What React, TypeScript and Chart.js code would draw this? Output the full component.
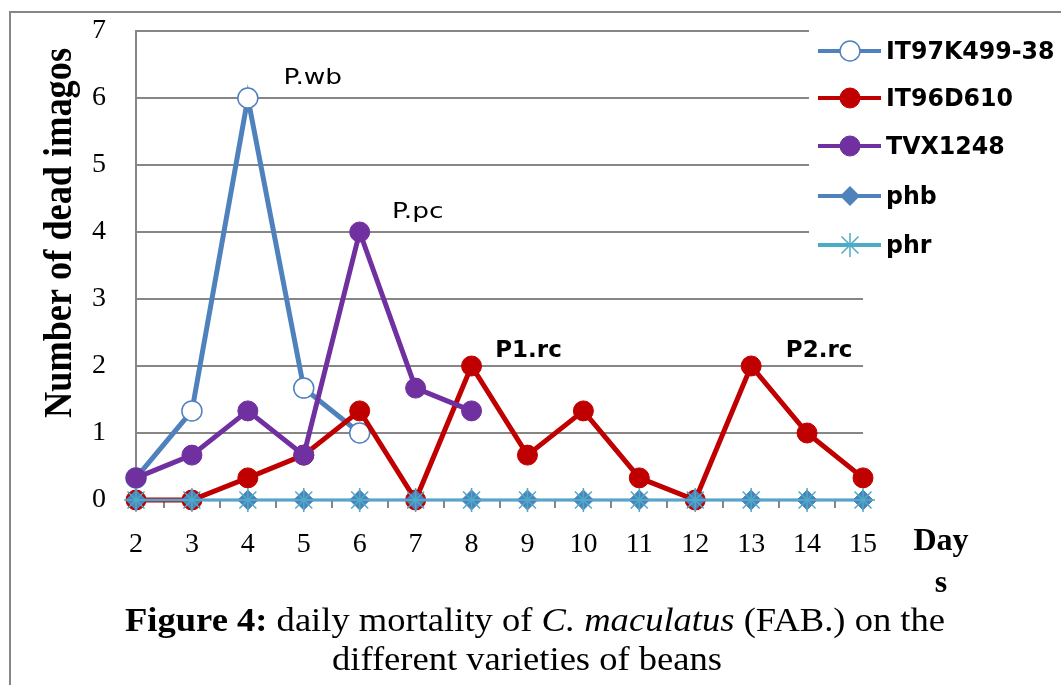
import React, { useEffect, useRef } from "react";
import { Chart, registerables } from "chart.js";

Chart.register(...registerables);

const days = ["2", "3", "4", "5", "6", "7", "8", "9", "10", "11", "12", "13", "14", "15"];
const yTicks = [0, 1, 2, 3, 4, 5, 6, 7];
const it97k = [0.33, 1.33, 6, 1.67, 1, null, null, null, null, null, null, null, null, null];
const it96d = [0, 0, 0.33, 0.67, 1.33, 0, 2, 0.67, 1.33, 0.33, 0, 2, 1, 0.33];
const tvx = [0.33, 0.67, 1.33, 0.67, 4, 1.67, 1.33, null, null, null, null, null, null, null];
const phb = [0, 0, 0, 0, 0, 0, 0, 0, 0, 0, 0, 0, 0, 0];
const phr = [0, 0, 0, 0, 0, 0, 0, 0, 0, 0, 0, 0, 0, 0];
const seriesNames = ["IT97K499-38", "IT96D610", "TVX1248", "phb", "phr"];
const peakLabels = [
  { text: "P.wb", day: "4", value: 6, dx: 65, dy: -20, bold: false },
  { text: "P.pc", day: "6", value: 4, dx: 58, dy: -20, bold: false },
  { text: "P1.rc", day: "8", value: 2, dx: 57, dy: -15, bold: true },
  { text: "P2.rc", day: "13", value: 2, dx: 68, dy: -15, bold: true },
];

const BLUE = "#4F81BD";
const RED = "#C00000";
const PURPLE = "#7030A0";
const CYAN = "#4BACC6";
const GRID = "#868686";

const extrasPlugin = {
  id: "extras",
  beforeDraw(chart: any) {
    const ctx = chart.ctx;
    ctx.save();
    ctx.fillStyle = "#ffffff";
    ctx.fillRect(0, 0, chart.width, chart.height);
    ctx.strokeStyle = GRID;
    ctx.lineWidth = 2;
    ctx.strokeRect(10, 12, chart.width + 20, chart.height + 20);
    ctx.restore();
  },
  afterDatasetsDraw(chart: any) {
    const ctx = chart.ctx;
    const xs = chart.scales.x;
    const ys = chart.scales.y;
    ctx.save();
    ctx.fillStyle = "#000";
    ctx.textAlign = "center";
    ctx.textBaseline = "middle";
    for (const p of peakLabels) {
      const idx = days.indexOf(p.day);
      const x = xs.getPixelForValue(idx) + p.dx;
      const y = ys.getPixelForValue(p.value) + p.dy;
      ctx.save();
      ctx.translate(x, y);
      if (p.bold) {
        ctx.font = "bold 23px 'DejaVu Sans'";
      } else {
        ctx.scale(1.2, 1);
        ctx.font = "22px 'DejaVu Sans'";
      }
      ctx.fillText(p.text, 0, 0);
      ctx.restore();
    }
    ctx.restore();
  },
  afterDraw(chart: any) {
    const ctx = chart.ctx;
    ctx.save();
    // legend
    ctx.fillStyle = "#fff";
    ctx.fillRect(809, 20, 260, 268);
    const ys = [51, 98, 146, 196, 245];
    const colors = [BLUE, RED, PURPLE, BLUE, CYAN];
    chart.data.datasets.forEach((ds: any, i: number) => {
      const y = ys[i];
      ctx.strokeStyle = colors[i];
      ctx.lineWidth = 4;
      ctx.beginPath();
      ctx.moveTo(818, y);
      ctx.lineTo(881, y);
      ctx.stroke();
      const ps = ds.pointStyle;
      if (ps === "circle") {
        ctx.beginPath();
        ctx.arc(850, y, ds.pointRadius, 0, Math.PI * 2);
        ctx.fillStyle = ds.pointBackgroundColor;
        ctx.fill();
        ctx.lineWidth = ds.pointBorderWidth;
        ctx.strokeStyle = ds.pointBorderColor;
        ctx.stroke();
      } else if (ps === "rectRot") {
        const r = ds.pointRadius;
        ctx.beginPath();
        ctx.moveTo(850, y - r);
        ctx.lineTo(850 + r, y);
        ctx.lineTo(850, y + r);
        ctx.lineTo(850 - r, y);
        ctx.closePath();
        ctx.fillStyle = ds.pointBackgroundColor;
        ctx.fill();
      } else if (ps === "star") {
        const r = ds.pointRadius;
        ctx.strokeStyle = CYAN;
        ctx.lineWidth = 1.5;
        ctx.beginPath();
        for (let k = 0; k < 4; k++) {
          const a = (k * Math.PI) / 4;
          ctx.moveTo(850 - r * Math.cos(a), y - r * Math.sin(a));
          ctx.lineTo(850 + r * Math.cos(a), y + r * Math.sin(a));
        }
        ctx.stroke();
      }
      ctx.save();
      ctx.translate(886, y + 1);
      ctx.scale(1.03, 1.1);
      ctx.fillStyle = "#000";
      ctx.font = "bold 23px 'DejaVu Sans'";
      ctx.textAlign = "left";
      ctx.textBaseline = "middle";
      ctx.fillText(seriesNames[i], 0, 0);
      ctx.restore();
    });

    // y title
    ctx.save();
    ctx.font = "bold 39px 'Liberation Serif'";
    const title = "Number of dead imagos";
    const tw = ctx.measureText(title).width;
    ctx.translate(71, 233);
    ctx.rotate(-Math.PI / 2);
    ctx.scale(370 / tw, 1);
    ctx.fillStyle = "#000";
    ctx.textAlign = "center";
    ctx.textBaseline = "alphabetic";
    ctx.fillText(title, 0, 0);
    ctx.restore();

    // x title
    ctx.fillStyle = "#000";
    ctx.font = "bold 32px 'Liberation Serif'";
    ctx.textAlign = "center";
    ctx.textBaseline = "middle";
    ctx.fillText("Day", 941, 542);
    ctx.fillText("s", 941, 584);

    // caption
    const parts = [
      { t: "Figure 4", f: "bold 32px 'Liberation Serif'" },
      { t: ": ", f: "bold 32px 'Liberation Serif'" },
      { t: "daily mortality of ", f: "32px 'Liberation Serif'" },
      { t: "C. maculatus", f: "italic 32px 'Liberation Serif'" },
      { t: " (FAB.) on the", f: "32px 'Liberation Serif'" },
    ];
    let total = 0;
    for (const p of parts) {
      ctx.font = p.f;
      total += ctx.measureText(p.t).width;
    }
    const target = 820;
    const sx = target / total;
    ctx.textBaseline = "middle";
    ctx.save();
    ctx.translate(125, 622);
    ctx.scale(sx, 1.05);
    ctx.textAlign = "left";
    let cx = 0;
    for (const p of parts) {
      ctx.font = p.f;
      ctx.fillText(p.t, cx, 0);
      cx += ctx.measureText(p.t).width;
    }
    ctx.restore();
    ctx.save();
    ctx.font = "32px 'Liberation Serif'";
    ctx.translate(527, 661);
    ctx.scale(sx, 1.05);
    ctx.textAlign = "center";
    ctx.fillText("different varieties of beans", 0, 0);
    ctx.restore();

    ctx.restore();
  },
};

export default function App() {
  const ref = useRef<HTMLCanvasElement | null>(null);
  useEffect(() => {
    if (!ref.current) return;
    const chart = new Chart(ref.current, {
      type: "line",
      data: {
        labels: days,
        datasets: [
          {
            label: seriesNames[0],
            data: it97k,
            borderColor: BLUE,
            borderWidth: 5,
            pointStyle: "circle",
            pointRadius: 10,
            pointBackgroundColor: "#ffffff",
            pointBorderColor: BLUE,
            pointBorderWidth: 1.5,
            clip: false,
            order: 4,
          },
          {
            label: seriesNames[1],
            data: it96d,
            borderColor: RED,
            borderWidth: 5,
            pointStyle: "circle",
            pointRadius: 10,
            pointBackgroundColor: RED,
            pointBorderColor: RED,
            pointBorderWidth: 1,
            clip: false,
            order: 3,
          },
          {
            label: seriesNames[2],
            data: tvx,
            borderColor: PURPLE,
            borderWidth: 5,
            pointStyle: "circle",
            pointRadius: 10,
            pointBackgroundColor: PURPLE,
            pointBorderColor: PURPLE,
            pointBorderWidth: 1,
            clip: false,
            order: 2,
          },
          {
            label: seriesNames[3],
            data: phb,
            borderColor: BLUE,
            borderWidth: 3,
            pointStyle: "rectRot",
            pointRadius: 10,
            pointBackgroundColor: BLUE,
            pointBorderColor: BLUE,
            pointBorderWidth: 1,
            clip: false,
            order: 1,
          },
          {
            label: seriesNames[4],
            data: phr,
            borderColor: CYAN,
            borderWidth: 2,
            pointStyle: "star",
            pointRadius: 12,
            pointBackgroundColor: CYAN,
            pointBorderColor: CYAN,
            pointBorderWidth: 1.5,
            clip: false,
            order: 0,
          },
        ],
      },
      options: {
        animation: false,
        responsive: true,
        maintainAspectRatio: false,
        spanGaps: false,
        layout: { padding: { left: 0, top: 31, right: 198, bottom: 0 } },
        plugins: {
          legend: { display: false },
          tooltip: { enabled: false },
          title: { display: false },
        },
        scales: {
          x: {
            type: "category",
            offset: false,
            grid: {
              offset: true,
              drawOnChartArea: false,
              drawTicks: true,
              tickLength: 8,
              color: GRID,
              lineWidth: 2,
            },
            border: { color: GRID, width: 2 },
            ticks: {
              color: "#000",
              padding: 20,
              font: { family: "'Liberation Serif'", size: 28 },
              maxRotation: 0,
              autoSkip: false,
            },
            afterFit: (s: any) => {
              s.height = 185;
              s.paddingLeft = 0;
              s.paddingRight = 0;
            },
          },
          y: {
            min: 0,
            max: 7,
            afterBuildTicks: (s: any) => {
              s.ticks = yTicks.map((v) => ({ value: v }));
            },
            grid: { color: GRID, lineWidth: 2, drawTicks: false },
            border: { color: GRID, width: 2 },
            ticks: {
              color: "#000",
              padding: 30,
              font: { family: "'Liberation Serif'", size: 28 },
            },
            afterFit: (s: any) => {
              s.width = 136;
              s.paddingTop = 0;
              s.paddingBottom = 0;
            },
          },
        },
      },
      plugins: [extrasPlugin],
    });
    return () => chart.destroy();
  }, []);
  return (
    <div style={{ position: "absolute", left: 0, top: 0, width: 1061, height: 685 }}>
      <canvas ref={ref} />
    </div>
  );
}
